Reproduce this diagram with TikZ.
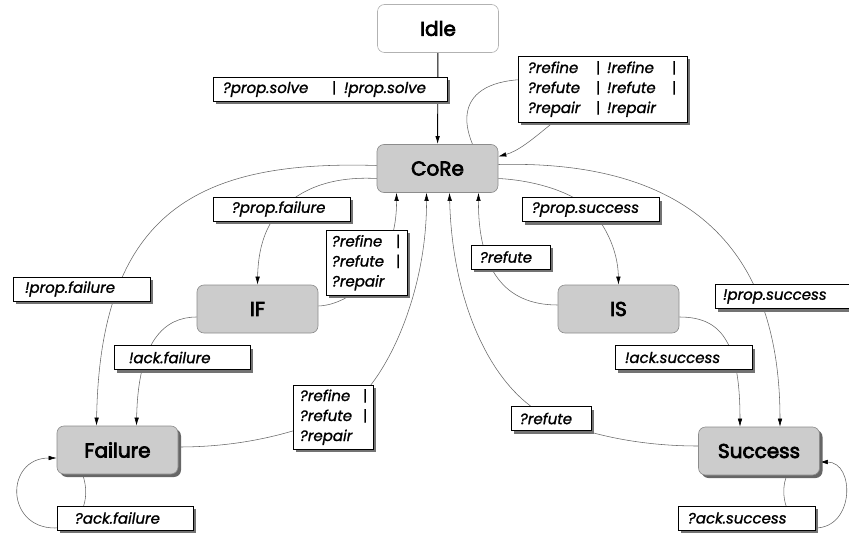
\documentclass[tikz,border=0pt]{standalone}
\usepackage{fontspec}
\setmainfont{Poppins}
\newfontfamily\statefont{Poppins}[FakeBold=3.5]
\newfontfamily\labelfont{Poppins}[FakeBold=1.2]
\usetikzlibrary{shadows,arrows.meta,backgrounds}

\newcommand\sepbar{{\upshape|}}

\tikzset{
  state/.style={draw=black!45, line width=0.6pt, fill=black!20, rounded corners=7pt,
    minimum width=121pt, minimum height=48pt, inner sep=0pt,
    font=\statefont\fontsize{20}{24}\selectfont},
  idlestate/.style={state, fill=white, draw=black!30},
  shadowed/.style={drop shadow={shadow xshift=3pt, shadow yshift=-3pt, fill=black!60, opacity=1}},
  lbl/.style={draw=black, line width=0.9pt, fill=white, inner ysep=0pt,
    minimum height=24pt, align=left,
    font=\labelfont\fontsize{15}{20}\selectfont\itshape,
    drop shadow={shadow xshift=3pt, shadow yshift=-3pt, fill=black!55, opacity=1}},
  edge/.style={draw=black!60, line width=0.55pt,
    -{Latex[length=8pt,width=4.5pt,color=black]}},
}

\begin{document}
\begin{tikzpicture}[x=1pt,y=-1pt]
\useasboundingbox (0,0) rectangle (849,535);

% states
\node[idlestate] (Idle) at (438,28.5) {Idle};
\node[state] (CoRe) at (437.5,168.5) {CoRe};
\node[state] (IF) at (257.5,309) {IF};
\node[state] (IS) at (618.5,309) {IS};
\node[state,shadowed] (Failure) at (117.5,450) {Failure};
\node[state,shadowed] (Success) at (759,451) {Success};

% transition labels
\node[lbl, minimum width=234pt, inner xsep=10pt, text width=214pt] (lSolve) at (330,89)
  {\makebox[109pt][l]{?prop.solve}\makebox[12pt][l]{\sepbar}!prop.solve};
\node[lbl, minimum width=169pt, minimum height=66pt, inner xsep=10pt, text width=149pt] (lLoop) at (602.5,89)
  {\makebox[68pt][l]{?refine}\makebox[11pt][l]{\sepbar}\makebox[65pt][l]{!refine}\sepbar\\
   \makebox[68pt][l]{?refute}\makebox[11pt][l]{\sepbar}\makebox[65pt][l]{!refute}\sepbar\\
   \makebox[68pt][l]{?repair}\makebox[11pt][l]{\sepbar}!repair};
\node[lbl, minimum width=137pt, inner xsep=19pt, text width=99pt] (lPropF) at (281.5,209) {?prop.failure};
\node[lbl, minimum width=81pt, minimum height=65pt, inner xsep=6pt, text width=69pt] (lRefIF) at (366.5,262.5)
  {\makebox[64pt][l]{?refine}\sepbar\\ \makebox[64pt][l]{?refute}\sepbar\\ ?repair};
\node[lbl, minimum width=137pt, inner xsep=12pt, text width=113pt] (lNotPropF) at (81.5,289) {!prop.failure};
\node[lbl, minimum width=136pt, inner xsep=15pt, text width=106pt] (lAckF) at (182,357.5) {!ack.failure};
\node[lbl, minimum width=137pt, inner xsep=10pt, text width=117pt] (lPropS) at (590.5,209.5) {?prop.success};
\node[lbl, minimum width=79pt, inner xsep=9pt, text width=61pt] (lRefuteIS) at (510.5,257) {?refute};
\node[lbl, minimum width=134pt, inner xsep=8pt, text width=118pt] (lNotPropS) at (782,296.5) {!prop.success};
\node[lbl, minimum width=137pt, inner xsep=10pt, text width=117pt] (lAckS) at (683.5,357.5) {!ack.success};
\node[lbl, minimum width=80pt, minimum height=64pt, inner xsep=7pt, text width=66pt] (lRefF) at (333,417)
  {\makebox[63pt][l]{?refine}\sepbar\\ \makebox[63pt][l]{?refute}\sepbar\\ ?repair};
\node[lbl, minimum width=136pt, inner xsep=18pt, text width=100pt] (lAckFail) at (125,518) {?ack.failure};
\node[lbl, minimum width=80pt, inner xsep=9pt, text width=62pt] (lRefuteS) at (551,418.5) {?refute};
\node[lbl, minimum width=137pt, inner xsep=10pt, text width=117pt] (lAckSucc) at (746.5,518) {?ack.success};

% transitions, drawn beneath nodes and labels
\begin{scope}[on background layer]
  \draw[edge, draw=black, line width=0.9pt] (Idle) -- (CoRe);
  % CoRe self loop
  \draw[edge] ([xshift=35pt]CoRe.north) .. controls (452,95) and (485,62) .. (lLoop.center)
     .. controls (560,110) and (530,148) .. ([yshift=12pt]CoRe.east);
  % CoRe -> Failure
  \draw[edge] ([yshift=3pt]CoRe.west) .. controls (200,160) and (100,210) .. ([xshift=-21pt]Failure.north);
  % CoRe -> IF
  \draw[edge] ([yshift=-10pt]CoRe.west) .. controls (330,176) and (300,190) .. (lPropF.center)
     .. controls (265,225) and (258,250) .. (IF.north);
  % IF -> CoRe
  \draw[edge] ([yshift=3pt]IF.east) .. controls (350,305) and (397,270) .. ([xshift=-41pt]CoRe.south);
  % IF -> Failure
  \draw[edge] ([yshift=-8pt]IF.west) .. controls (165,317) and (138,340) .. ([xshift=19pt]Failure.north);
  % Failure -> CoRe
  \draw[edge] ([yshift=3pt]Failure.east) .. controls (250,447) and (300,430) .. (lRefF.center)
     .. controls (380,398) and (427,300) .. ([xshift=-11pt]CoRe.south);
  % Failure self loop
  \draw[edge] ([xshift=-35pt]Failure.south) .. controls (92,500) and (80,528) .. (55,528)
     .. controls (5,528) and (5,458) .. ([yshift=-8pt]Failure.west);
  % CoRe -> IS
  \draw[edge] ([yshift=-10pt]CoRe.east) .. controls (530,180) and (570,190) .. (lPropS.center)
     .. controls (605,225) and (618,250) .. (IS.north);
  % IS -> CoRe
  \draw[edge] ([yshift=4pt]IS.west) .. controls (505,305) and (478,270) .. ([xshift=41pt]CoRe.south);
  % CoRe -> Success
  \draw[edge] ([yshift=4pt]CoRe.east) .. controls (680,160) and (780,240) .. ([xshift=21pt]Success.north);
  % IS -> Success
  \draw[edge] ([yshift=-8pt]IS.east) .. controls (720,317) and (740,340) .. ([xshift=-19pt]Success.north);
  % Success -> CoRe
  \draw[edge] ([yshift=5pt]Success.west) .. controls (640,446) and (590,435) .. (lRefuteS.center)
     .. controls (490,390) and (452,300) .. ([xshift=12pt]CoRe.south);
  % Success self loop
  \draw[edge] ([xshift=28pt]Success.south) .. controls (779,492) and (785,528) .. (815,528)
     .. controls (855,528) and (855,462) .. ([yshift=-11pt]Success.east);
\end{scope}
\end{tikzpicture}
\end{document}
